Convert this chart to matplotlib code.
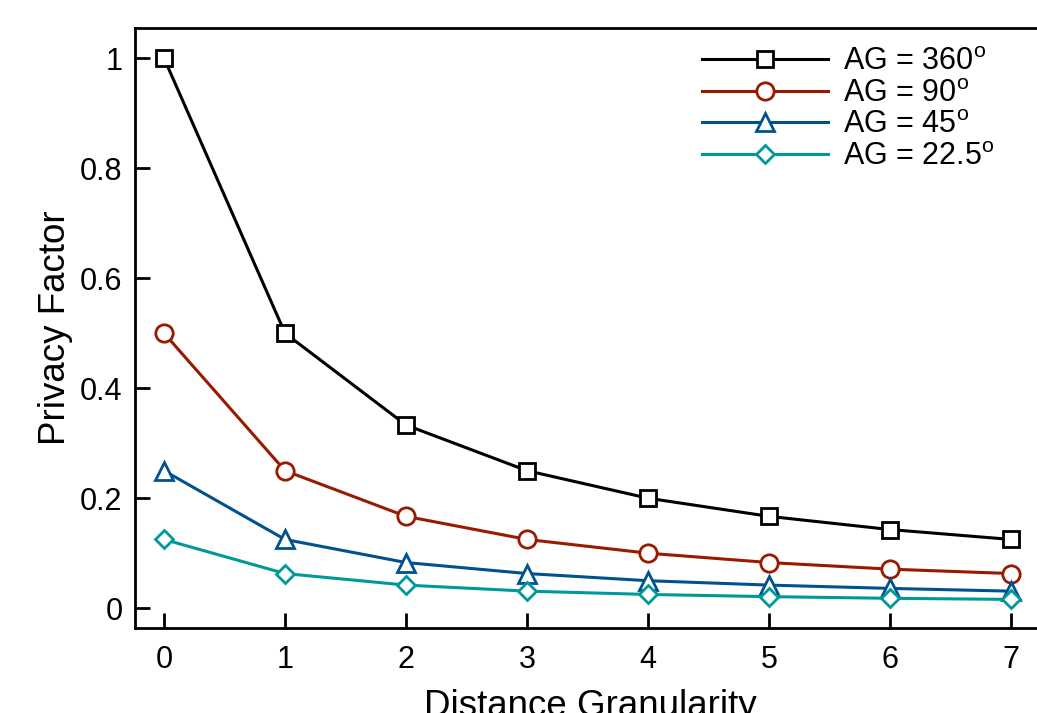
import matplotlib
matplotlib.use('Agg')
import matplotlib.pyplot as plt

plt.rcParams['font.family'] = ['Liberation Sans', 'DejaVu Sans']
plt.rcParams['mathtext.fontset'] = 'custom'
plt.rcParams['mathtext.rm'] = 'Liberation Sans'

# distance granularity
dg = [0, 1, 2, 3, 4, 5, 6, 7]

# privacy factor per angular granularity
pf_360 = [1.0, 0.5, 0.333, 0.25, 0.2, 0.167, 0.143, 0.125]
pf_90 = [0.5, 0.25, 0.167, 0.125, 0.1, 0.083, 0.071, 0.063]
pf_45 = [0.25, 0.125, 0.083, 0.063, 0.05, 0.042, 0.036, 0.031]
pf_225 = [0.125, 0.063, 0.042, 0.031, 0.025, 0.021, 0.018, 0.016]

labels = [r'AG = 360$^{\mathrm{o}}$', r'AG = 90$^{\mathrm{o}}$',
          r'AG = 45$^{\mathrm{o}}$', r'AG = 22.5$^{\mathrm{o}}$']
colors = ['#000000', '#9a1a00', '#00528f', '#00999a']
markers = ['s', 'o', '^', 'D']
msizes = [11.5, 12.5, 12.5, 9.5]

fig = plt.figure(figsize=(10.37, 7.13), dpi=100)
ax = fig.add_axes([135 / 1037, 85 / 713, 910 / 1037, 600 / 713])

for ys, lab, c, m, ms in zip([pf_360, pf_90, pf_45, pf_225], labels, colors, markers, msizes):
    ax.plot(dg, ys, marker=m, color=c, lw=2.2, markersize=ms,
            markerfacecolor='white', markeredgecolor=c, markeredgewidth=2.0,
            label=lab, clip_on=False)

ax.set_xlim(-0.24, 7.28)
ax.set_ylim(-0.036, 1.055)
ax.set_xticks(dg)
ax.set_yticks([0, 0.2, 0.4, 0.6, 0.8, 1])
ax.set_yticklabels(['0', '0.2', '0.4', '0.6', '0.8', '1'])

for s in ax.spines.values():
    s.set_linewidth(2.0)

ax.tick_params(axis='both', direction='in', length=11, width=2.0, labelsize=22)
ax.tick_params(axis='x', pad=12)
ax.tick_params(axis='y', pad=9)

ax.set_xlabel('Distance Granularity', fontsize=26.5, labelpad=10)
ax.set_ylabel('Privacy Factor', fontsize=26.5, labelpad=5)

ax.legend(loc='upper left', bbox_to_anchor=(0.6, 1.004), frameon=False, fontsize=22,
          handlelength=4.1, handletextpad=0.5, labelspacing=0.05, borderaxespad=0.3)

fig.savefig('out.png', dpi=100)
